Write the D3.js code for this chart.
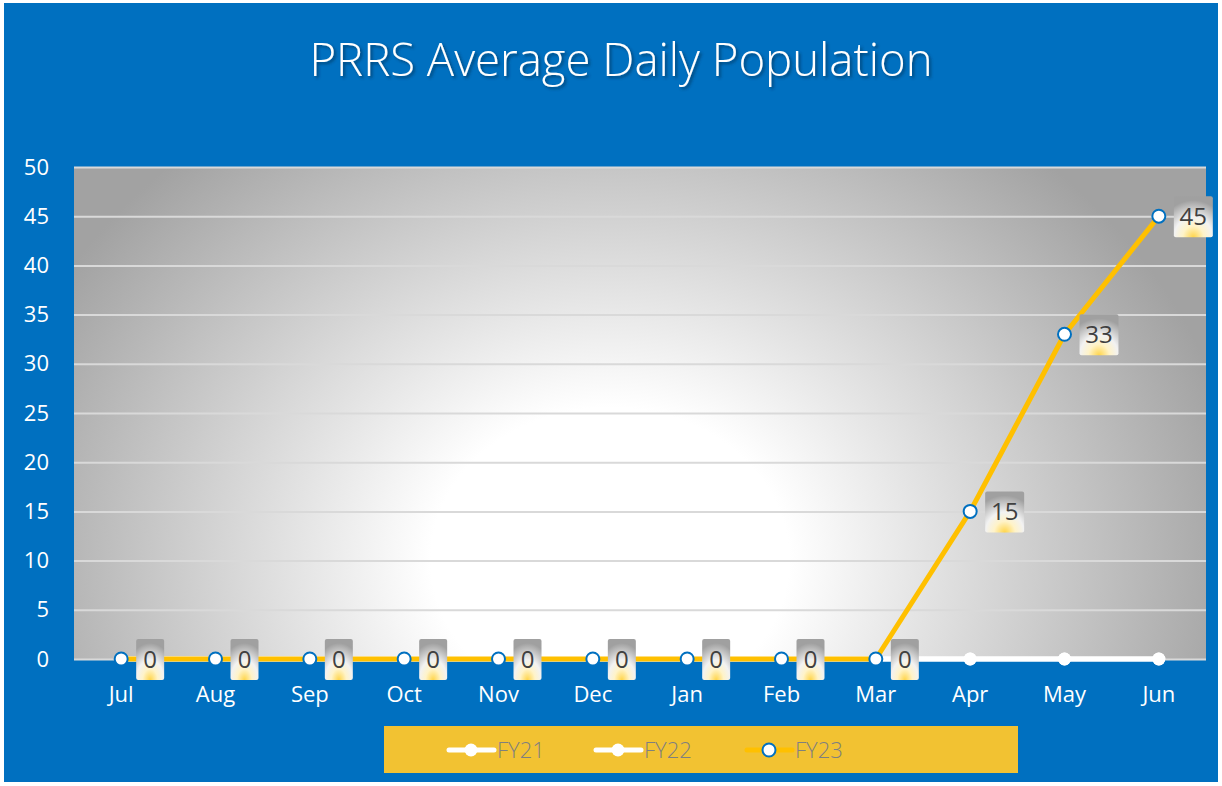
<!DOCTYPE html>
<html>
<head>
<meta charset="utf-8">
<script src="https://cdn.jsdelivr.net/npm/d3@7"></script>
<style>
  html, body { margin: 0; padding: 0; background: #ffffff; }
  svg { display: block; font-family: "Open Sans", "Noto Sans", sans-serif; }
</style>
</head>
<body>
<svg id="chart" width="1222" height="786"></svg>
<script>
// chart values
var months = ["Jul", "Aug", "Sep", "Oct", "Nov", "Dec", "Jan", "Feb", "Mar", "Apr", "May", "Jun"];
var fy21 = [0, 0, 0, 0, 0, 0, 0, 0, 0, 0, 0, 0];
var fy22 = [0, 0, 0, 0, 0, 0, 0, 0, 0, 0, 0, 0];
var fy23 = [0, 0, 0, 0, 0, 0, 0, 0, 0, 15, 33, 45];
var yTicks = [0, 5, 10, 15, 20, 25, 30, 35, 40, 45, 50];
var seriesNames = ["FY21", "FY22", "FY23"];

var svg = d3.select("#chart");
var defs = svg.append("defs");

// plot box
var pLeft = 74, pRight = 1206, pTop = 167, pBottom = 659;

var x = d3.scaleBand().domain(months).range([pLeft, pRight]);
var y = d3.scaleLinear().domain([0, 50]).range([pBottom, pTop]);

// backgrounds
svg.append("rect").attr("x", 4).attr("y", 3).attr("width", 1214).attr("height", 779)
    .attr("fill", "#0070c0");

var rg = defs.append("radialGradient").attr("id", "plotbg")
    .attr("gradientUnits", "userSpaceOnUse")
    .attr("cx", 610).attr("cy", 560).attr("r", 640)
    .attr("gradientTransform", "translate(610,560) scale(1,0.85) translate(-610,-560)");
rg.append("stop").attr("offset", "0").attr("stop-color", "#ffffff");
rg.append("stop").attr("offset", "0.28").attr("stop-color", "#ffffff");
rg.append("stop").attr("offset", "1").attr("stop-color", "#a2a2a2");

svg.append("rect").attr("x", pLeft).attr("y", pTop)
    .attr("width", pRight - pLeft).attr("height", pBottom - pTop)
    .attr("fill", "url(#plotbg)");

// title shadow
var sh = defs.append("filter").attr("id", "tshadow").attr("x", "-10%").attr("y", "-30%")
    .attr("width", "120%").attr("height", "160%");
sh.append("feDropShadow").attr("dx", 2).attr("dy", 2).attr("stdDeviation", 1.5)
    .attr("flood-color", "#00305a").attr("flood-opacity", 0.7);

svg.append("text").attr("x", 621).attr("y", 76)
    .attr("text-anchor", "middle").attr("fill", "#ffffff")
    .attr("font-size", 45.5).attr("font-weight", 300).attr("filter", "url(#tshadow)")
    .text("PRRS Average Daily Population");

// gridlines
var grid = svg.append("g")
    .attr("transform", "translate(" + pLeft + ",0)")
    .call(d3.axisLeft(y).tickValues(yTicks).tickSize(-(pRight - pLeft)).tickFormat(""));
grid.select(".domain").remove();
grid.selectAll("line").attr("stroke", "#d9d9d9").attr("stroke-width", 2);

// y labels
var yAxis = svg.append("g")
    .attr("transform", "translate(" + (pLeft - 25) + ",0)")
    .call(d3.axisLeft(y).tickValues(yTicks).tickSize(0).tickPadding(0));
yAxis.select(".domain").remove();
yAxis.selectAll("text").attr("fill", "#ffffff").attr("font-size", 22)
    .attr("font-family", "'Open Sans', sans-serif").attr("text-anchor", "end");

// x labels
var xAxis = svg.append("g")
    .attr("transform", "translate(0," + pBottom + ")")
    .call(d3.axisBottom(x).tickSize(0).tickPadding(27));
xAxis.select(".domain").remove();
xAxis.selectAll("text").attr("fill", "#ffffff").attr("font-size", 22)
    .attr("font-family", "'Open Sans', sans-serif");

// lines
var line = d3.line()
    .x(function(d, i) { return x(months[i]) + x.bandwidth() / 2; })
    .y(function(d) { return y(d); });

function drawSeries(data, color, mfill, mstroke) {
    svg.append("path").datum(data)
        .attr("d", line).attr("fill", "none")
        .attr("stroke", color).attr("stroke-width", 5)
        .attr("stroke-linejoin", "round");
    svg.append("g").selectAll("circle").data(data).enter().append("circle")
        .attr("cx", function(d, i) { return x(months[i]) + x.bandwidth() / 2; })
        .attr("cy", function(d) { return y(d); })
        .attr("r", 6.5)
        .attr("fill", mfill)
        .attr("stroke", mstroke).attr("stroke-width", mstroke == "none" ? 0 : 2);
}

drawSeries(fy21, "#ffffff", "#ffffff", "none");
drawSeries(fy22, "#ffffff", "#ffffff", "none");
drawSeries(fy23, "#ffc000", "#ffffff", "#0070c0");

// data label boxes
var lg = defs.append("radialGradient").attr("id", "lblbg")
    .attr("cx", "0.5").attr("cy", "1").attr("r", "0.9");
lg.append("stop").attr("offset", "0").attr("stop-color", "#ffd54a");
lg.append("stop").attr("offset", "0.3").attr("stop-color", "#fff3c8");
lg.append("stop").attr("offset", "0.55").attr("stop-color", "#f2f2f2");
lg.append("stop").attr("offset", "1").attr("stop-color", "#a0a0a0");

var labels = svg.append("g").selectAll("g").data(fy23).enter().append("g")
    .attr("transform", function(d, i) {
        return "translate(" + (x(months[i]) + x.bandwidth() / 2) + "," + y(d) + ")";
    });
labels.append("rect")
    .attr("x", 15)
    .attr("y", -20)
    .attr("width", function(d) { return String(d).length > 1 ? 39 : 28; })
    .attr("height", 41)
    .attr("rx", 2)
    .attr("fill", "url(#lblbg)");
labels.append("text")
    .attr("x", function(d) { return String(d).length > 1 ? 34.5 : 29; })
    .attr("y", 9)
    .attr("text-anchor", "middle")
    .attr("fill", "#404040").attr("font-size", 24)
    .text(function(d) { return d; });

// legend
svg.append("rect").attr("x", 384).attr("y", 726).attr("width", 634).attr("height", 47)
    .attr("fill", "#f2c232");

var legendX = [449, 596, 747];
var legendColors = ["#ffffff", "#ffffff", "#ffc000"];
var legendStroke = ["none", "none", "#0070c0"];
var leg = svg.append("g").selectAll("g").data(seriesNames).enter().append("g")
    .attr("transform", function(d, i) { return "translate(" + legendX[i] + ",750)"; });
leg.append("line").attr("x1", 0).attr("x2", 45).attr("y1", 0).attr("y2", 0)
    .attr("stroke", function(d, i) { return legendColors[i]; })
    .attr("stroke-width", 5).attr("stroke-linecap", "round");
leg.append("circle").attr("cx", 22).attr("cy", 0).attr("r", 6.5)
    .attr("fill", "#ffffff")
    .attr("stroke", function(d, i) { return legendStroke[i]; })
    .attr("stroke-width", 2);
leg.append("text").attr("x", 48).attr("y", 8)
    .attr("fill", "#7f7f7f").attr("font-size", 22).attr("font-weight", 300)
    .text(function(d) { return d; });
</script>
</body>
</html>
